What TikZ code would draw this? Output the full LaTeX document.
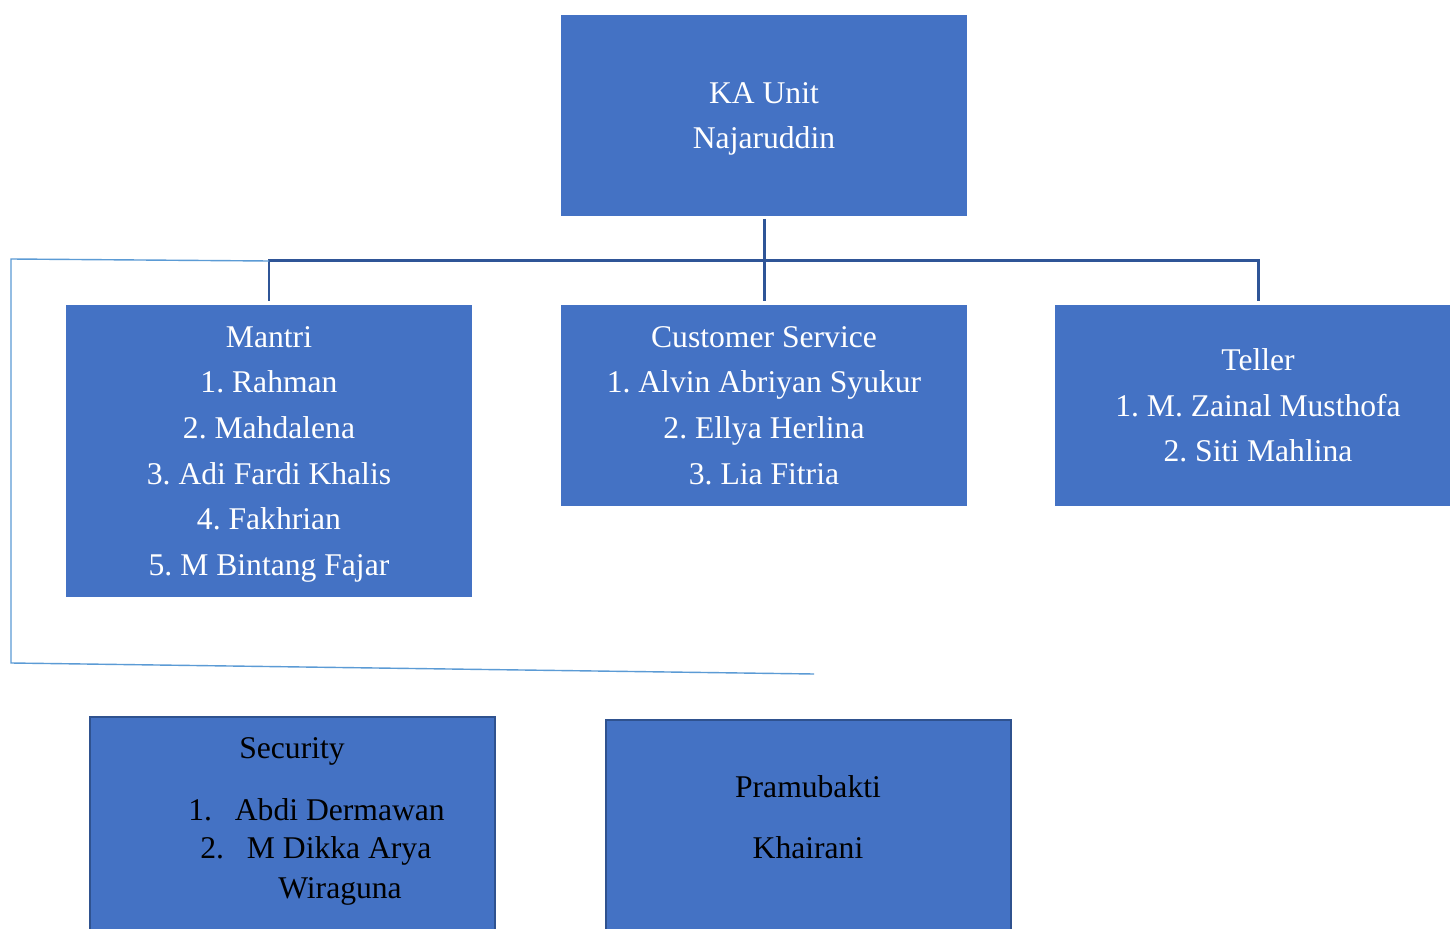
\documentclass[tikz,border=0pt]{standalone}
\usepackage{fontspec}
\setmainfont{Liberation Serif}
\usepackage{xcolor}
\usetikzlibrary{positioning,calc}
\definecolor{unitblue}{HTML}{4472C4}
\definecolor{linkblue}{HTML}{2F5597}
\definecolor{guideblue}{HTML}{5B9BD5}
\definecolor{edgeblue}{HTML}{2F528F}
\newcommand{\orgfont}{\frenchspacing\fontsize{18}{26}\selectfont}

\tikzset{
    unitbox/.style={rectangle, fill=unitblue, text=white, align=center, inner sep=0pt,
        minimum width=8.12cm, minimum height=4.02cm, font=\orgfont},
    lowbox/.style={rectangle, fill=unitblue, draw=edgeblue, line width=1.1pt, inner sep=0pt,
        minimum width=8.1cm, minimum height=5cm},
    lowtext/.style={text=black, inner sep=0pt, font=\orgfont},
    orglink/.style={linkblue, line width=1.7pt},
    guide/.style={guideblue, line width=0.8pt}
}

\begin{document}
\begin{tikzpicture}[x=0.02cm, y=-0.02cm]
    \clip (0,0) rectangle (1450,929);
    \fill[white] (0,0) rectangle (1450,929);

    % Head of unit
    \node[unitbox, text depth=-0.07cm] (ka) at (764,115.5) {KA Unit\\Najaruddin};

    % Second level
    \node[unitbox, minimum height=5.84cm, text depth=-0.07cm] (mantri) at (269,451) {Mantri\\1. Rahman\\2. Mahdalena\\3. Adi Fardi Khalis\\4. Fakhrian\\5. M Bintang Fajar};
    \node[unitbox] (cs) at (764,405.5) {Customer Service\\1. Alvin Abriyan Syukur\\2. Ellya Herlina\\3. Lia Fitria};
    \node[unitbox] (teller) at (1258,405.5) {Teller\\1. M. Zainal Musthofa\\2. Siti Mahlina};

    % Connectors
    \coordinate (bus) at (764,261);
    \draw[orglink, shorten <=1.5pt] (ka.south) -- (bus);
    \draw[orglink, shorten >=2pt] (bus) -- (cs.north);
    \draw[orglink] (mantri.north) ++(0,-4) -- ++(0,-40) -| ($(teller.north)+(0,-4)$);

    % Guide lines
    \coordinate (gtop) at (269,261);
    \coordinate (gleft) at (11,259);
    \coordinate (gcorner) at (11,663);
    \coordinate (gend) at (814,674);
    \draw[guide] (gtop) -- (gleft) -- (gcorner) -- (gend);

    % Lower boxes
    \node[lowbox] (security) at (292.5,842) {};
    \node[lowtext] (sectitle) at (292,751) {Security};
    \node[lowtext, anchor=west] (secone) at (188,810) {1.\hspace{13pt}Abdi Dermawan};
    \node[lowtext, anchor=west] (sectwo) at (200,851) {2.\hspace{13pt}M Dikka Arya};
    \node[lowtext, anchor=west] (secthree) at (278,891) {Wiraguna};

    \node[lowbox] (pramu) at (808.5,845) {};
    \node[lowtext] (pramutitle) at (808,787) {Pramubakti};
    \node[lowtext] (pramuname) at (808,848) {Khairani};
\end{tikzpicture}
\end{document}
